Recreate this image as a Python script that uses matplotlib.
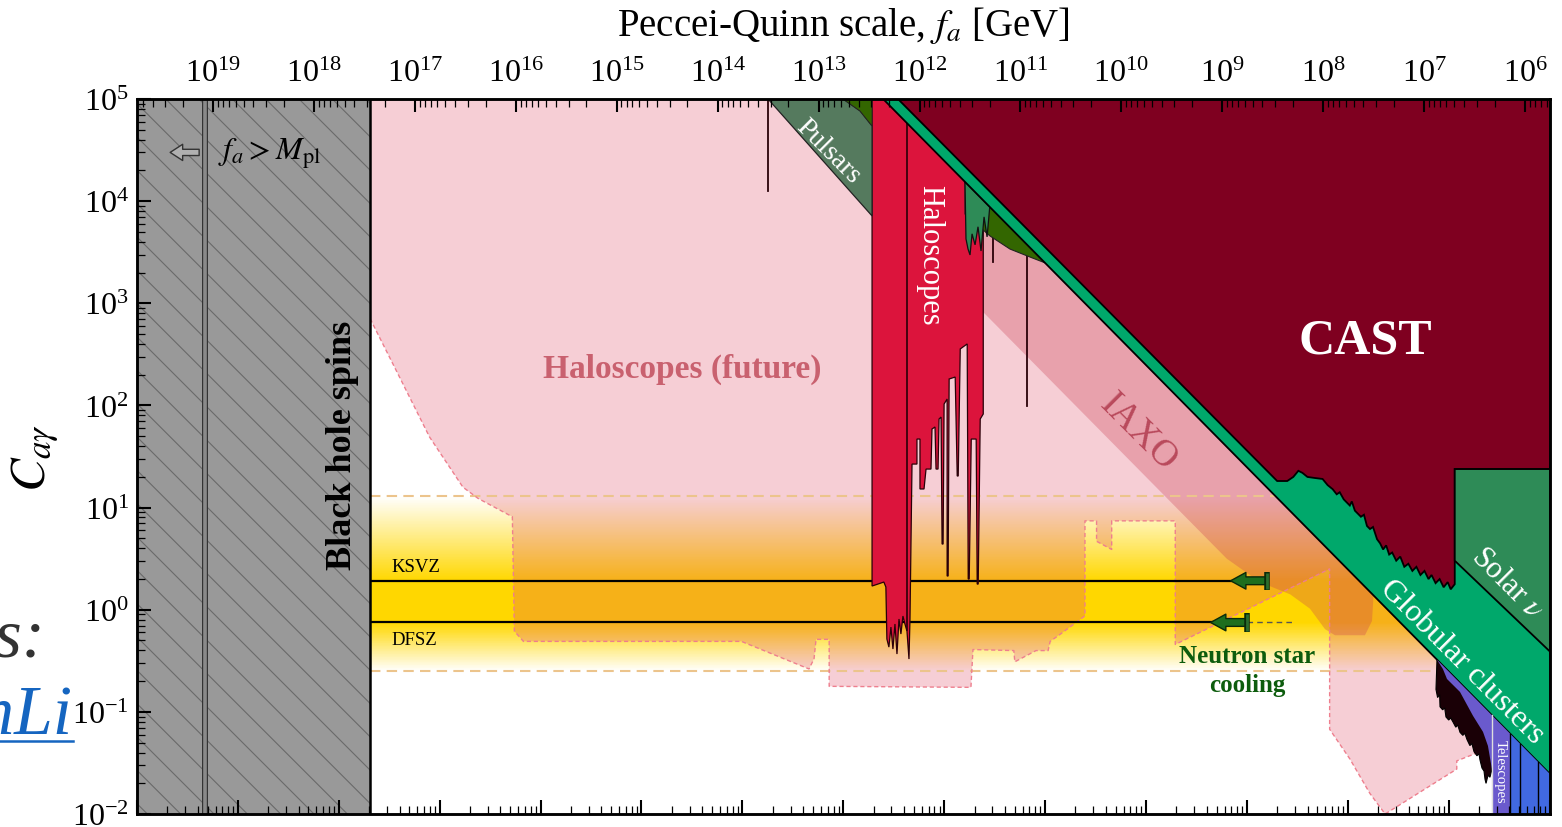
import numpy as np
import matplotlib
matplotlib.use("Agg")
import matplotlib.pyplot as plt
from matplotlib.lines import Line2D
from matplotlib.colors import LinearSegmentedColormap
from matplotlib.ticker import LogLocator, NullFormatter

plt.rcParams['font.family'] = 'serif'
plt.rcParams['font.serif'] = ['Liberation Serif', 'DejaVu Serif']
plt.rcParams['mathtext.fontset'] = 'stix'
plt.rcParams['hatch.linewidth'] = 0.8

# f_a [GeV] = FA_M / m_a [eV]
FA_M = 5.7e6

# axis ranges: axion mass [eV] and C_agamma
m_range = (1e-13, 10 ** 1.004)
C_range = (1e-2, 1e5)

# fixed lines / bands
m_bh = 2.04e-11                 # black hole spins reach
m_planck = FA_M / 1.22e19       # f_a = M_pl
C_ksvz, C_dfsz = 1.92, 0.75
band_lo, band_hi = 0.25, 13.0
m_ns_ksvz, m_ns_dfsz = 0.0158, 0.0100
m_dfsz_dash = 0.030

# all outlines below: log10(m_a / eV), log10(C_agamma)
fut_lm = [-10.69, -10.44, -10.10, -9.77, -9.62, -9.28, -9.26, -9.17, -7.01, -6.34,
          -6.29, -6.27, -6.14, -6.14, -4.735, -4.715, -4.31, -4.30, -4.09, -3.97,
          -3.95, -3.85, -3.605, -3.605, -3.49, -3.49, -3.34, -3.34, -2.71, -2.71,
          -1.18, -1.18, -0.98, -0.78, -0.63, 0.08, 0.08, 0.44, 1.004]
fut_lc = [2.85, 2.36, 1.69, 1.20, 1.09, 0.91, -0.21, -0.31, -0.31, -0.58,
          -0.48, -0.29, -0.29, -0.75, -0.76, -0.39, -0.40, -0.51, -0.40, -0.40,
          -0.31, -0.24, -0.06, 0.87, 0.87, 0.67, 0.59, 0.87, 0.87, -0.34,
          0.40, -1.17, -1.46, -1.80, -2.0, -1.56, -1.48, -1.34, -1.07]

iaxo_lm = [-5.60, -2.20, -1.87, -1.57, -1.375, -1.226, -1.127, -0.830, -0.760, -0.745, -5.60]
iaxo_lc = [3.90, 0.50, 0.27, 0.15, 0.01, -0.19, -0.25, -0.25, -0.11, 0.14, 4.995]

halo_lm = [-5.715, -5.715, -5.657, -5.598, -5.578, -5.568, -5.548, -5.528, -5.508, -5.488,
           -5.468, -5.448, -5.429, -5.409, -5.389, -5.369, -5.349, -5.339, -5.319, -5.270,
           -5.270, -5.240, -5.240, -5.200, -5.180, -5.131, -5.121, -5.091, -5.081, -5.061,
           -5.051, -5.031, -5.021, -5.011, -5.001, -4.971, -4.971, -4.961, -4.951, -4.891,
           -4.871, -4.861, -4.841, -4.772, -4.762, -4.752, -4.732, -4.683, -4.673, -4.663,
           -4.643, -4.613, -4.613]
halo_lc = [5.0, 0.232, 0.251, 0.271, 0.222, -0.287, -0.366, -0.170, -0.385, -0.140,
           -0.434, -0.091, -0.238, -0.062, -0.140, -0.209, -0.483, -0.091, 1.426, 1.426,
           1.671, 1.671, 1.182, 1.182, 1.377, 1.377, 1.769, 1.789, 1.377, 1.377,
           1.867, 1.886, 0.643, 0.643, 2.014, 2.063, 0.330, 0.330, 2.259, 2.278,
           1.309, 1.309, 2.553, 2.602, 0.300, 0.300, 1.671, 1.671, 0.251, 0.251,
           1.867, 1.916, 5.0]
halo_split_lm = -5.369

puls_lm = [-6.746, -5.715, -5.715, -5.834, -6.003]
puls_lc = [5.0, 3.855, 4.736, 4.883, 5.0]

dg_top_lm = [-6.003, -5.834, -5.715, -5.715]
dg_top_lc = [5.0, 4.883, 4.736, 5.0]

dg_lens_lm = [-4.794, -4.794, -4.546, -4.348, -4.150, -4.001]
dg_lens_lc = [4.189, 3.874, 3.659, 3.531, 3.453, 3.396]

admx_lm = [-4.794, -4.784, -4.764, -4.744, -4.724, -4.694, -4.665, -4.635, -4.605, -4.575, -4.546, -4.526]
admx_lc = [4.189, 3.630, 3.532, 3.473, 3.680, 3.572, 3.749, 3.512, 3.846, 3.650, 3.972, 3.921]

gc_lm = [-5.605, 1.004, 1.004]
gc_lc = [5.0, -1.609, 5.0]

cast_lm = [-5.458, -1.70, -1.60, -1.54, -1.49, -1.45, -1.40, -1.33, -1.25, -1.20,
           -1.15, -1.11, -1.08, -1.04, -1.01, -0.98, -0.96, -0.93, -0.90, -0.87,
           -0.84, -0.81, -0.78, -0.75, -0.71, -0.68, -0.65, -0.62, -0.59, -0.56,
           -0.52, -0.48, -0.44, -0.40, -0.36, -0.32, -0.28, -0.24, -0.20, -0.17,
           -0.13, -0.09, -0.05, -0.01, 0.02, 0.06, 0.06, 1.004, 1.004]
cast_lc = [5.0, 1.26, 1.26, 1.30, 1.36, 1.34, 1.30, 1.29, 1.28, 1.22,
           1.18, 1.13, 1.15, 1.08, 1.05, 1.02, 1.06, 0.97, 0.94, 0.91,
           0.93, 0.82, 0.79, 0.81, 0.69, 0.65, 0.59, 0.63, 0.54, 0.56,
           0.48, 0.52, 0.42, 0.45, 0.38, 0.42, 0.34, 0.38, 0.30, 0.34,
           0.26, 0.30, 0.22, 0.27, 0.20, 0.25, 1.377, 1.377, 5.0]

solar_lm = [0.06, 1.004, 1.004, 0.06]
solar_lc = [1.377, 1.377, -0.41, 0.48]

tel_noise_lm = [-0.116, -0.126, -0.11, -0.09, -0.086, -0.06, -0.04, -0.027, 0.0, 0.02,
                0.043, 0.07, 0.09, 0.112, 0.14, 0.16, 0.181, 0.21, 0.23, 0.251,
                0.28, 0.30, 0.31, 0.33, 0.35, 0.36, 0.37, 0.39, 0.409, 0.429, 0.429]
tel_noise_lc = [-0.489, -0.78, -0.86, -0.83, -0.95, -0.98, -0.96, -1.05, -1.08, -1.06,
                -1.10, -1.15, -1.13, -1.20, -1.23, -1.21, -1.27, -1.33, -1.31, -1.39,
                -1.43, -1.41, -1.47, -1.55, -1.58, -1.66, -1.70, -1.62, -1.64, -1.56, -1.034]

tel1_lm = [-0.116, 0.607, 0.607, 0.429, 0.429, 0.389, 0.340, 0.241, 0.112, -0.017, -0.057]
tel1_lc = [-0.489, -1.212, -2.0, -2.0, -1.564, -1.333, -1.196, -1.039, -0.805, -0.678, -0.581]

tel2_lm = [0.607, 1.004, 1.004, 0.607]
tel2_lc = [-1.212, -1.609, -2.0, -2.0]
tel_lines_lm = [0.429, 0.607, 0.71, 0.89]

spk_lm = [-6.746, -4.516, -4.179]
spk_top = [5.0, 3.91, 3.57]
spk_bot = [4.10, 3.40, 1.99]


def P(lm, lc):
    return 10 ** np.asarray(lm, float), 10 ** np.asarray(lc, float)


fig = plt.figure(figsize=(15.62, 8.28), dpi=100)
ax = fig.add_axes([137 / 1562, 1 - 815 / 828, 1413 / 1562, 715 / 828])
ax.set_xscale('log')
ax.set_yscale('log')
ax.set_xlim(*m_range)
ax.set_ylim(*C_range)

# QCD axion band with a yellow gradient
lk, ld = np.log10(C_ksvz), np.log10(C_dfsz)
lt, lb = np.log10(band_hi), np.log10(band_lo)
edges = np.linspace(lb, lt, 241)
mid = 0.5 * (edges[1:] + edges[:-1])
w = np.where(mid > lk, (lt - mid) / (lt - lk), np.where(mid < ld, (mid - lb) / (ld - lb), 1.0))
w = np.clip(w, 0, 1)
band_cmap = LinearSegmentedColormap.from_list('band', ['#ffffff', '#ffd700'])
ax.pcolormesh([m_bh, m_range[1]], 10 ** edges, w[:, None], cmap=band_cmap,
              vmin=0, vmax=1, shading='flat', zorder=0.5)

# future haloscopes
fx, fy = P(list(fut_lm) + [fut_lm[-1], fut_lm[0]], list(fut_lc) + [5.0, 5.0])
ax.fill(fx, fy, color=(223 / 255, 69 / 255, 96 / 255), alpha=0.26, lw=0, zorder=1)
ax.plot(*P(fut_lm, fut_lc), color='#ee7f8e', lw=1, ls=(0, (3, 2)), zorder=1.6)

# IAXO
ax.fill(*P(iaxo_lm, iaxo_lc), color=(200 / 255, 60 / 255, 80 / 255), alpha=0.3, lw=0, zorder=1.2)

# band edges
for cb in (band_lo, band_hi):
    ax.plot([m_bh, m_range[1]], [cb, cb], color='#ecc48c', lw=1.5, ls=(0, (5, 3)), zorder=1.5)

# KSVZ / DFSZ lines
ax.plot([m_bh, m_ns_ksvz], [C_ksvz, C_ksvz], color='k', lw=1.6, zorder=2)
ax.plot([m_bh, m_ns_dfsz], [C_dfsz, C_dfsz], color='k', lw=1.6, zorder=2)
ax.plot([m_ns_dfsz, m_dfsz_dash], [C_dfsz, C_dfsz], color='#555555', lw=1, ls=(0, (4, 3)), zorder=2)
ax.text(3.3e-11, 2.62, 'KSVZ', fontsize=13.5, ha='left', va='center', zorder=10)
ax.text(3.3e-11, 0.516, 'DFSZ', fontsize=13.5, ha='left', va='center', zorder=10)

# haloscopes and friends
ax.fill(*P(halo_lm, halo_lc), fc='#dc143c', ec='#2a0008', lw=0.9, zorder=3)
ax.plot([10 ** halo_split_lm] * 2, [10 ** -0.2, 1e5], color='#2a0008', lw=1.2, zorder=3.1)
ax.fill(*P(puls_lm, puls_lc), fc='#557a5e', ec='#222222', lw=0.9, zorder=3)
ax.fill(*P(dg_top_lm, dg_top_lc), fc='#336600', ec='#222222', lw=0.6, zorder=3)
ax.fill(*P(dg_lens_lm, dg_lens_lc), fc='#336600', ec='#222222', lw=0.8, zorder=3.4)
ax.fill(*P(admx_lm, admx_lc), fc='#2e8b57', ec='#111111', lw=0.9, zorder=3.5)
for xm, t, b in zip(spk_lm, spk_top, spk_bot):
    ax.plot([10 ** xm] * 2, [10 ** b, 10 ** t], color='#2a0008', lw=1.3, zorder=3)

# stellar / helioscope limits
ax.fill(*P(gc_lm, gc_lc), fc='#00a86b', ec='k', lw=1.3, zorder=4)
ax.fill(*P(cast_lm, cast_lc), fc='#7f0020', ec='k', lw=1.3, zorder=5)
ax.fill(*P(solar_lm, solar_lc), fc='#2e8b57', ec='k', lw=1.3, zorder=6)
ax.fill(*P(tel_noise_lm, tel_noise_lc), fc='#1a0006', ec='k', lw=0.8, zorder=4.2)
ax.fill(*P(tel1_lm, tel1_lc), fc='#6a5acd', ec='none', lw=0, zorder=4.3)
ax.fill(*P(tel2_lm, tel2_lc), fc='#4169e1', ec='none', lw=0, zorder=4.3)
for xm in tel_lines_lm:
    ax.plot([10 ** xm] * 2, [1e-2, 10 ** (-0.605 - xm)], color='k' if xm > 0.5 else '#dddddd',
            lw=1, zorder=4.4)

# black hole spins
ax.axvspan(m_range[0], m_bh, fc='#999999', ec='#6a6a6a', hatch='\\', lw=0, zorder=7)
ax.axvline(m_bh, color='k', lw=1.8, zorder=7.2)
ax.axvline(m_planck, color='#333333', lw=4.3, zorder=7.3)
ax.axvline(m_planck, color='#8a8a8a', lw=2.6, zorder=7.4)
ax.annotate('', xy=(2.0e-13, 3.0e4), xytext=(4.4e-13, 3.0e4), zorder=8,
            arrowprops=dict(arrowstyle='simple,head_length=0.5,head_width=0.65,tail_width=0.25',
                            fc='#b0b0b0', ec='#333333', lw=1, mutation_scale=18))
ax.text(6.35e-13, 3.0e4, r'$f_a > M_{\rm pl}$', fontsize=23, ha='left', va='center', zorder=10)

# neutron star cooling arrows
for m_ns, C in ((m_ns_ksvz, C_ksvz), (m_ns_dfsz, C_dfsz)):
    ax.annotate('', xy=(m_ns / 10 ** 0.36, C), xytext=(m_ns, C), zorder=9,
                arrowprops=dict(arrowstyle='simple,head_length=0.55,head_width=0.6,tail_width=0.28',
                                fc='#1e6e1e', ec='#0a2a0a', lw=1, mutation_scale=20,
                                shrinkA=0, shrinkB=0))
    ax.plot([m_ns, m_ns], [C / 10 ** 0.09, C * 10 ** 0.09], color='#0a2a0a', lw=4, zorder=9,
            solid_capstyle='butt')
    ax.plot([m_ns, m_ns], [C / 10 ** 0.08, C * 10 ** 0.08], color='#2d6e2d', lw=2, zorder=9.1,
            solid_capstyle='butt')
ax.text(0.0100, 0.257, 'Neutron star\ncooling', fontsize=18, fontweight='bold', color='#0d5c0d',
        ha='center', va='center', linespacing=1.3, zorder=10)

# labels on the regions
ax.text(1.1e-11, 41.9, 'Black hole spins', rotation=90, fontsize=26, fontweight='bold',
        ha='center', va='center', zorder=10)
ax.text(2.53e-8, 232, 'Haloscopes (future)', fontsize=24, fontweight='bold', color='#c9616f',
        ha='center', va='center', zorder=10)
ax.text(0.148, 428, 'CAST', fontsize=36, fontweight='bold', color='white',
        ha='center', va='center', zorder=10)
ax.text(7.2e-6, 3040, 'Haloscopes', rotation=-90, fontsize=22, color='white',
        ha='center', va='center', zorder=10)
ax.text(7.05e-7, 30800, 'Pulsars', rotation=-45, rotation_mode='anchor', fontsize=20,
        color='white', ha='center', va='center', zorder=10)
ax.text(8.3e-4, 56, 'IAXO', rotation=-45, rotation_mode='anchor', fontsize=27,
        color='#b94a5c', ha='center', va='center', zorder=10)
ax.text(1.355, 0.315, 'Globular clusters', rotation=-45, rotation_mode='anchor', fontsize=23,
        color='white', ha='center', va='center', zorder=10)
ax.text(3.78, 1.87, r'Solar $\nu$', rotation=-45, rotation_mode='anchor', fontsize=22,
        color='white', ha='center', va='center', zorder=10)
ax.text(3.22, 0.0264, 'Telescopes', rotation=-90, fontsize=10.5, color='white',
        ha='center', va='center', zorder=10)

# axes styling
for s in ax.spines.values():
    s.set_linewidth(1.8)
    s.set_zorder(20)
ax.xaxis.set_zorder(20)
ax.yaxis.set_zorder(20)
for axis in (ax.xaxis, ax.yaxis):
    axis.set_major_locator(LogLocator(base=10, numticks=40))
    axis.set_minor_locator(LogLocator(base=10, subs=np.arange(2, 10), numticks=40))
    axis.set_minor_formatter(NullFormatter())
ax.tick_params(which='both', direction='in', top=False, right=False, bottom=True, left=True,
               labelbottom=False, labelsize=23, pad=6)
ax.tick_params(which='major', length=10, width=1.5)
ax.tick_params(which='minor', length=5.5, width=0.9)
ax.text(-0.072, 0.5, r'$C_{a\gamma}$', transform=ax.transAxes, rotation=90, fontsize=36,
        ha='center', va='center')

ax2 = ax.twiny()
ax2.set_xscale('log')
ax2.set_xlim(FA_M / m_range[0], FA_M / m_range[1])
ax2.xaxis.set_major_locator(LogLocator(base=10, numticks=40))
ax2.xaxis.set_minor_locator(LogLocator(base=10, subs=np.arange(2, 10), numticks=40))
ax2.xaxis.set_minor_formatter(NullFormatter())
ax2.tick_params(which='both', direction='in', top=True, bottom=False, labeltop=True,
                labelbottom=False, labelsize=23, pad=8)
ax2.tick_params(which='major', length=9, width=1.5)
ax2.tick_params(which='minor', length=5.5, width=0.9)
for s in ax2.spines.values():
    s.set_linewidth(1.8)
fig.text(843 / 1562, 1 - 25 / 828, r'Peccei-Quinn scale, $f_a$ [GeV]', fontsize=28,
         ha='center', va='center')

# cropped overlay text at the left edge
fig.text(45 / 1562, 1 - 658 / 828, 'Plots:', fontsize=50, style='italic', color='#333333',
         ha='right', va='baseline')
fig.text(73 / 1562, 1 - 735 / 828, 'AxionLi', fontsize=50, style='italic', color='#1565c0',
         ha='right', va='baseline')
fig.add_artist(Line2D([0, 73 / 1562], [1 - 742 / 828] * 2, color='#1565c0', lw=1.8))

fig.savefig('out.png', dpi=100)
